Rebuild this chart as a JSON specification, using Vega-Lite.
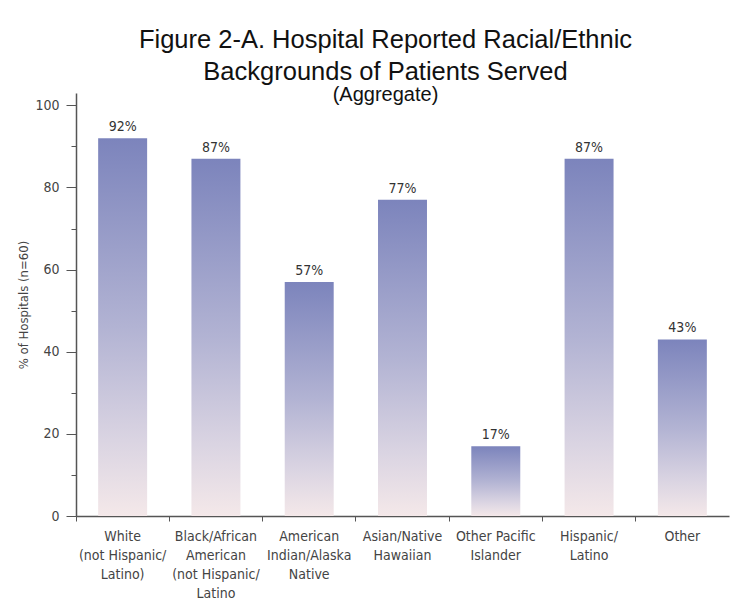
{
  "$schema": "https://vega.github.io/schema/vega-lite/v6.json",
  "autosize": "none",
  "width": 653,
  "height": 423,
  "padding": {"left": 76, "top": 93, "right": 22, "bottom": 97},
  "background": "white",
  "title": {
    "text": ["Figure 2-A. Hospital Reported Racial/Ethnic", "Backgrounds of Patients Served"],
    "subtitle": "(Aggregate)",
    "anchor": "middle",
    "frame": "group",
    "font": "Liberation Sans",
    "fontSize": 25.5,
    "fontWeight": "normal",
    "lineHeight": 32,
    "color": "#111",
    "subtitleFont": "Liberation Sans",
    "subtitleFontSize": 20,
    "subtitleColor": "#111",
    "subtitlePadding": 0,
    "offset": -12,
    "dx": -17
  },
  "data": {
    "values": [
      {"group": "White|(not Hispanic/|Latino)", "pct": 92, "label": "92%"},
      {"group": "Black/African|American|(not Hispanic/|Latino", "pct": 87, "label": "87%"},
      {"group": "American|Indian/Alaska|Native", "pct": 57, "label": "57%"},
      {"group": "Asian/Native|Hawaiian", "pct": 77, "label": "77%"},
      {"group": "Other Pacific|Islander", "pct": 17, "label": "17%"},
      {"group": "Hispanic/|Latino", "pct": 87, "label": "87%"},
      {"group": "Other", "pct": 43, "label": "43%"}
    ]
  },
  "encoding": {
    "x": {
      "field": "group",
      "type": "nominal",
      "sort": null,
      "scale": {"paddingInner": 0, "paddingOuter": 0},
      "axis": {
        "title": null,
        "labelAngle": 0,
        "labelExpr": "split(datum.label, '|')",
        "labelFont": "DejaVu Sans Condensed",
        "labelFontSize": 14,
        "labelColor": "#444",
        "labelLineHeight": 19,
        "labelPadding": 8,
        "labelBaseline": "top",
        "bandPosition": 0,
        "tickSize": 5,
        "tickColor": "#555",
        "domainColor": "#555",
        "domainWidth": 1.5,
        "labelLimit": 200
      }
    },
    "y": {
      "field": "pct",
      "type": "quantitative",
      "scale": {"domain": [0, 103], "nice": false},
      "axis": {
        "title": "% of Hospitals (n=60)",
        "titleFont": "DejaVu Sans Condensed",
        "titleFontSize": 13,
        "titleFontWeight": "normal",
        "titleColor": "#444",
        "titlePadding": 4,
        "values": [0, 10, 20, 30, 40, 50, 60, 70, 80, 90, 100],
        "labelExpr": "datum.value % 20 === 0 ? datum.label : ''",
        "grid": false,
        "tickSize": {"condition": {"test": "datum.value % 20 === 0", "value": 10}, "value": 5},
        "tickColor": "#555",
        "domainColor": "#555",
        "domainWidth": 1.5,
        "labelFont": "DejaVu Sans Condensed",
        "labelFontSize": 14,
        "labelColor": "#444",
        "labelPadding": 7
      }
    }
  },
  "layer": [
    {
      "mark": {
        "type": "bar",
        "width": {"band": 0.525},
        "fill": {
          "gradient": "linear",
          "x1": 0, "y1": 0, "x2": 0, "y2": 1,
          "stops": [
            {"offset": 0, "color": "#7c84bc"},
            {"offset": 0.5, "color": "#b2b3d3"},
            {"offset": 0.8, "color": "#dad4e2"},
            {"offset": 1, "color": "#f4e8e9"}
          ]
        }
      }
    },
    {
      "mark": {
        "type": "text",
        "baseline": "bottom",
        "dy": -4,
        "font": "DejaVu Sans Condensed",
        "fontSize": 14,
        "color": "#333"
      },
      "encoding": {
        "text": {"field": "label", "type": "nominal"}
      }
    }
  ],
  "config": {"view": {"stroke": null}}
}
